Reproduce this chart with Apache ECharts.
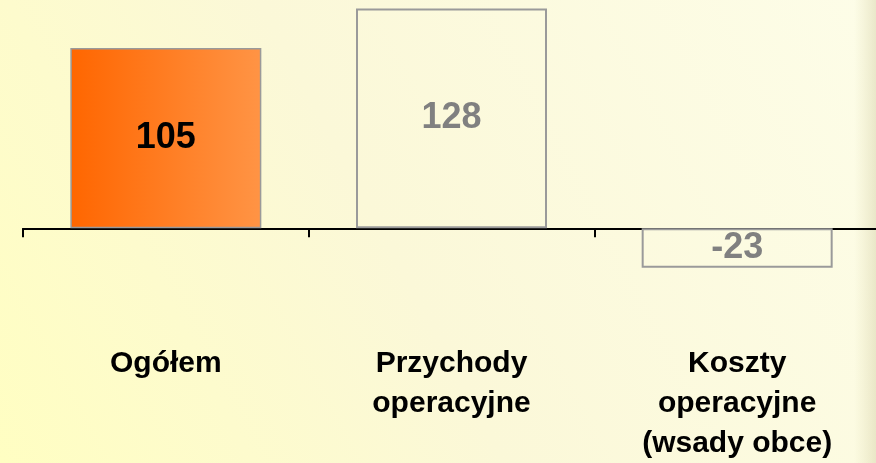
<!DOCTYPE html>
<html>
<head>
<meta charset="utf-8">
<script src="https://cdn.jsdelivr.net/npm/echarts@6/dist/echarts.min.js"></script>
<style>
	html, body { margin: 0; padding: 0; }
	#chart { width: 876px; height: 463px; }
</style>
</head>
<body>
<div id="chart"></div>
<script>
	// dane
	var categories = ['Ogółem', 'Przychody\noperacyjne', 'Koszty\noperacyjne\n(wsady obce)'];
	var values = [105, 128, -23];

	var font = 'Arial, "Liberation Sans", sans-serif';

	var orangeFill = {
		type: 'linear', x: 0, y: 0, x2: 1, y2: 0,
		colorStops: [{ offset: 0, color: '#ff6600' }, { offset: 1, color: '#ff9445' }]
	};

	// pierwszy słupek pomarańczowy, pozostałe puste z szarą ramką
	var barData = values.map(function(v, i) {
		var first = i === 0;
		return {
			value: v,
			itemStyle: {
				color: first ? orangeFill : 'rgba(0,0,0,0)',
				borderColor: '#9a9a9a',
				borderWidth: first ? 1.5 : 2
			},
			label: {
				color: first ? '#000000' : '#808080'
			}
		};
	});

	var myChart = echarts.init(document.getElementById('chart'));
	myChart.setOption({
		animation: false,
		backgroundColor: {
			type: 'linear', x: 0, y: 1, x2: 1, y2: 0,
			colorStops: [
				{ offset: 0, color: '#fffec2' },
				{ offset: 0.45, color: '#fbf8d8' },
				{ offset: 1, color: '#fdfde8' }
			]
		},
		graphic: [{
			type: 'rect',
			right: 0, top: 0,
			shape: { width: 22, height: 463 },
			style: {
				fill: {
					type: 'linear', x: 0, y: 0, x2: 1, y2: 0,
					colorStops: [{ offset: 0, color: 'rgba(220,215,170,0)' }, { offset: 1, color: 'rgba(210,205,165,0.45)' }]
				}
			},
			silent: true
		}],
		grid: {
			left: 23,
			width: 857,
			top: 5,
			bottom: 166,
			containLabel: false,
			outerBoundsMode: 'none'
		},
		xAxis: {
			type: 'category',
			data: categories,
			axisLine: { onZero: true, lineStyle: { color: '#000', width: 2 } },
			axisTick: { show: true, length: 9, lineStyle: { color: '#000', width: 2 } },
			axisLabel: {
				interval: 0,
				margin: 47,
				color: '#000',
				fontFamily: font,
				fontWeight: 'bold',
				fontSize: 30,
				lineHeight: 40
			}
		},
		yAxis: {
			type: 'value',
			min: -40,
			max: 130,
			show: false,
			splitLine: { show: false }
		},
		series: [{
			type: 'bar',
			barWidth: 191,
			data: barData,
			label: {
				show: true,
				position: 'inside',
				fontFamily: font,
				fontWeight: 'bold',
				fontSize: 36
			}
		}]
	});
</script>
</body>
</html>
